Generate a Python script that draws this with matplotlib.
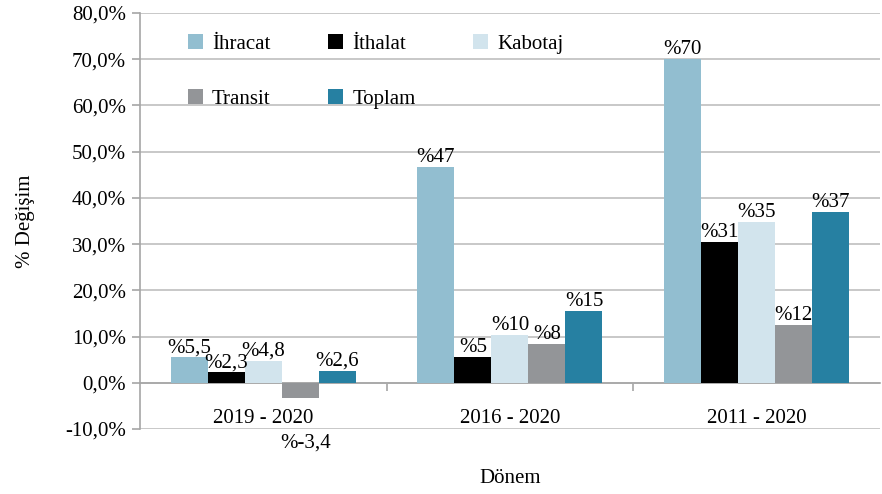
import matplotlib
matplotlib.use("Agg")
import matplotlib.pyplot as plt
import numpy as np

plt.rcParams['font.family'] = ['Liberation Serif', 'DejaVu Serif']

categories = ["2019 - 2020", "2016 - 2020", "2011 - 2020"]
series_names = ["İhracat", "İthalat", "Kabotaj", "Transit", "Toplam"]
ihracat = [5.5, 46.7, 70.0]
ithalat = [2.3, 5.6, 30.5]
kabotaj = [4.8, 10.3, 34.7]
transit = [-3.4, 8.3, 12.4]
toplam = [2.6, 15.5, 36.9]
labels_ihracat = ["%5,5", "%47", "%70"]
labels_ithalat = ["%2,3", "%5", "%31"]
labels_kabotaj = ["%4,8", "%10", "%35"]
labels_transit = ["%-3,4", "%8", "%12"]
labels_toplam = ["%2,6", "%15", "%37"]
yticks = [-10, 0, 10, 20, 30, 40, 50, 60, 70, 80]
ytick_labels = ["-10,0%", "0,0%", "10,0%", "20,0%", "30,0%", "40,0%", "50,0%", "60,0%", "70,0%", "80,0%"]

colors = ["#92BED0", "#000000", "#D2E4ED", "#939598", "#2680A2"]
values = [ihracat, ithalat, kabotaj, transit, toplam]
labels = [labels_ihracat, labels_ithalat, labels_kabotaj, labels_transit, labels_toplam]

fig = plt.figure(figsize=(8.82, 4.94), dpi=100)
ax = fig.add_axes([0.1587, 0.1316, 0.8390, 0.8421])

x = np.arange(len(categories))
w = 0.15
handles = []
fs = 15
for i, (vals, col, labs) in enumerate(zip(values, colors, labels)):
    pos = x + (i - 2) * w
    b = ax.bar(pos, vals, width=w, color=col, zorder=3, label=series_names[i])
    handles.append(b)
    for p, v, l in zip(pos, vals, labs):
        if v >= 0:
            ax.annotate(l, (p, v), xytext=(0, 0), textcoords="offset points",
                        ha="center", va="bottom", fontsize=fs, zorder=4)
        else:
            ax.annotate(l, (p, v), xytext=(4, -25), textcoords="offset points",
                        ha="center", va="top", fontsize=fs, zorder=4)

ax.set_xlim(-0.5, 2.5)
ax.set_ylim(-10, 80)
ax.set_yticks(yticks)
ax.set_yticklabels(ytick_labels, fontsize=fs)
ax.yaxis.grid(True, color="#BFBFBF", linewidth=1.2, zorder=0)
ax.set_axisbelow(True)

for s in ["top", "right"]:
    ax.spines[s].set_visible(False)
ax.spines["left"].set_color("#A6A6A6")
ax.spines["left"].set_linewidth(1.2)
ax.spines["bottom"].set_position(("data", 0))
ax.spines["bottom"].set_color("#A6A6A6")
ax.spines["bottom"].set_linewidth(1.2)

ax.set_xticks(x)
ax.set_xticklabels(categories, fontsize=fs)
ax.set_xticks([0.5, 1.5], minor=True)
ax.tick_params(axis="x", which="major", length=0, pad=19)
ax.tick_params(axis="x", which="minor", length=6, color="#A6A6A6", width=1.2)
ax.tick_params(axis="y", length=6, color="#A6A6A6", width=1.2, pad=4)

ax.set_ylabel("% Değişim", fontsize=fs)
ax.yaxis.set_label_coords(-0.142, 0.5)
fig.text(0.578, 0.032, "Dönem", ha="center", va="center", fontsize=fs)

order = [0, 3, 1, 4, 2]
leg = ax.legend([handles[k] for k in order], [series_names[k] for k in order],
                ncol=3, loc="upper left", bbox_to_anchor=(0.039, 0.995),
                frameon=False, fontsize=fs, handlelength=0.72, handleheight=0.72,
                columnspacing=2.75, labelspacing=1.7, handletextpad=0.45)

fig.savefig("out.png", dpi=100)
